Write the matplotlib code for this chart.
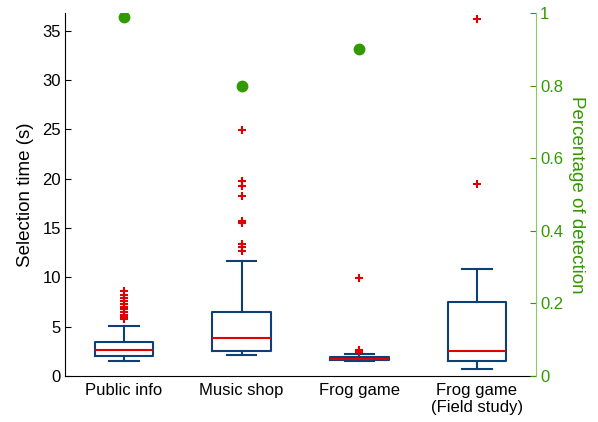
import matplotlib.pyplot as plt

plt.rcParams['font.family'] = ['Liberation Sans', 'DejaVu Sans']

categories = ['Public info', 'Music shop', 'Frog game', 'Frog game\n(Field study)']
whislo = [1.55, 2.1, 1.55, 0.75]
q1 = [2.0, 2.5, 1.6, 1.5]
medians = [2.6, 3.9, 1.75, 2.55]
q3 = [3.4, 6.5, 1.9, 7.55]
whishi = [5.1, 11.7, 2.2, 10.9]
outliers = [
    [5.8, 6.0, 6.2, 6.5, 6.8, 7.0, 7.3, 7.6, 7.9, 8.2, 8.6],
    [12.7, 13.1, 13.4, 15.5, 15.7, 18.3, 19.3, 19.8, 24.9],
    [2.4, 2.6, 9.9],
    [19.5, 36.2],
]
detection = [0.99, 0.80, 0.90]

blue = '#0e3f77'
red = '#e00000'
green = '#339900'

stats = []
for i in range(len(categories)):
    stats.append(dict(whislo=whislo[i], q1=q1[i], med=medians[i], q3=q3[i],
                      whishi=whishi[i], fliers=outliers[i]))

fig = plt.figure(figsize=(5.98, 4.22), dpi=100)
ax = fig.add_axes([0.109, 0.109, 0.787, 0.860])
ax.bxp(stats, positions=range(1, 5), widths=0.5,
       boxprops=dict(color=blue, linewidth=1.5),
       whiskerprops=dict(color=blue, linewidth=1.5, linestyle='-'),
       capprops=dict(color=blue, linewidth=1.5),
       medianprops=dict(color=red, linewidth=1.5),
       flierprops=dict(marker='+', markeredgecolor=red, markersize=6, markeredgewidth=1.5))
ax.set_xlim(0.5, 4.5)
ax.set_ylim(0, 36.8)
ax.set_yticks(range(0, 36, 5))
ax.set_xticks(range(1, 5))
ax.set_xticklabels(categories, fontsize=12)
ax.tick_params(axis='y', direction='in', labelsize=12, length=4, pad=3)
ax.tick_params(axis='x', length=0, pad=5)
ax.set_ylabel('Selection time (s)', fontsize=13.5, labelpad=6)
ax.spines['top'].set_visible(False)
ax.spines['right'].set_visible(False)

ax2 = ax.twinx()
ax2.plot(range(1, len(detection) + 1), detection, 'o', color=green, markersize=7.5, linestyle='none')
ax2.set_ylim(0, 1)
ax2.set_yticks([0, 0.2, 0.4, 0.6, 0.8, 1])
ax2.set_yticklabels(['0', '0.2', '0.4', '0.6', '0.8', '1'])
ax2.tick_params(axis='y', direction='in', colors=green, labelsize=12, length=4, pad=3)
ax2.spines['right'].set_color('#8cc864')
ax2.spines['top'].set_visible(False)
ax2.spines['left'].set_visible(False)
ax2.spines['bottom'].set_visible(False)
ax2.set_ylabel('Percentage of detection', color=green, fontsize=13.5, rotation=270, labelpad=16)

fig.savefig('out.png', dpi=100)
